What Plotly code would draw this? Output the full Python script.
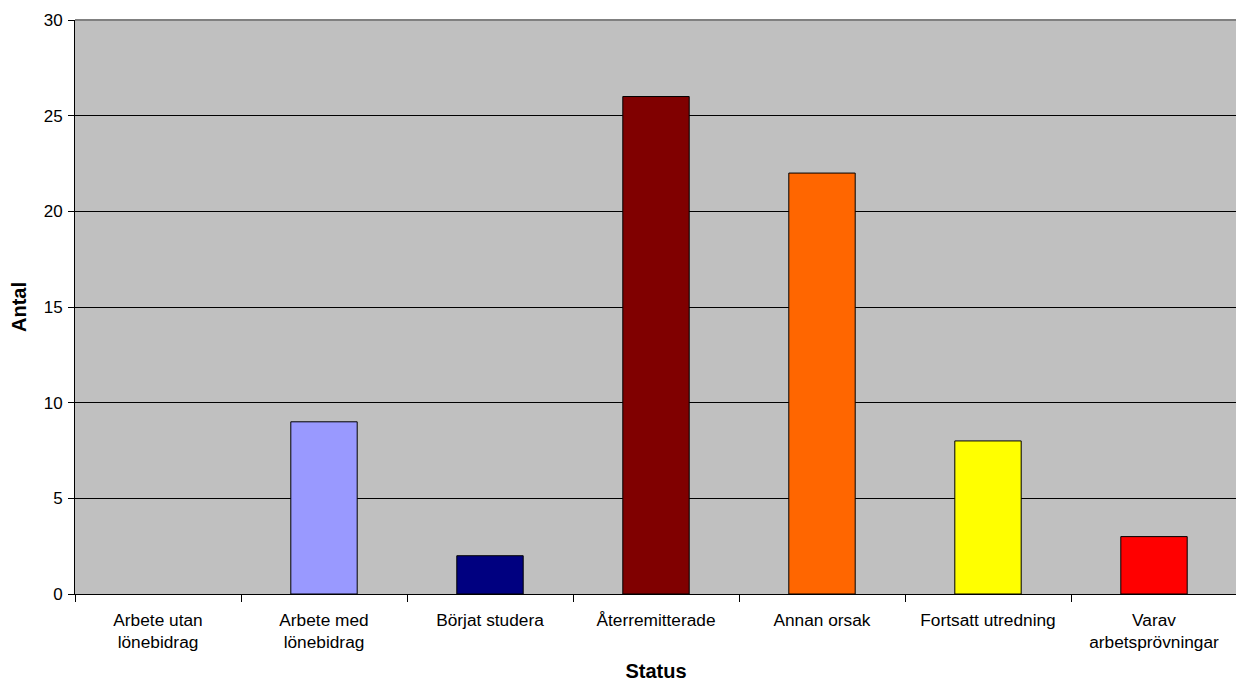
import plotly.graph_objects as go

categories = ["Arbete utan<br>lönebidrag", "Arbete med<br>lönebidrag", "Börjat studera",
              "Återremitterade", "Annan orsak", "Fortsatt utredning", "Varav<br>arbetsprövningar"]
values = [0, 9, 2, 26, 22, 8, 3]
colors = ["#C0C0C0", "#9999FF", "#000080", "#800000", "#FF6600", "#FFFF00", "#FF0000"]
y_ticks = [0, 5, 10, 15, 20, 25, 30]

fig = go.Figure(go.Bar(
    x=categories, y=values,
    marker=dict(color=colors, line=dict(color="black", width=[0 if v == 0 else 1 for v in values])),
    width=0.4,
))

font = dict(family="Liberation Sans, Arial, sans-serif", size=17, color="black")
fig.update_layout(
    width=1236, height=674,
    margin=dict(l=67, r=7, t=12, b=88),
    paper_bgcolor="white", plot_bgcolor="#C0C0C0",
    font=font, showlegend=False, bargap=0.6,
)
fig.update_xaxes(
    tickson="boundaries", ticks="outside", ticklen=7, tickcolor="black",
    showline=True, linecolor="black", linewidth=1, showgrid=False,
    tickfont=dict(size=17.3), ticklabelstandoff=10, automargin=False,
    title=dict(text="<b>Status</b>", font=dict(size=20), standoff=17),
)
fig.update_yaxes(
    range=[0, 30], tickvals=y_ticks, ticks="outside", ticklen=6, tickcolor="black",
    showline=True, linecolor="black", linewidth=1,
    showgrid=True, gridcolor="black", gridwidth=1,
    tickfont=dict(size=17), ticklabelstandoff=2, automargin=False,
    title=dict(text="<b>Antal</b>", font=dict(size=20), standoff=16),
    zeroline=False,
)
fig.add_shape(type="line", xref="paper", yref="paper", x0=0, x1=1, y0=1, y1=1,
              line=dict(color="#808080", width=2))
fig.add_shape(type="line", xref="paper", yref="paper", x0=1, x1=1, y0=0, y1=1,
              line=dict(color="#808080", width=2))
fig.write_html("out.html")
